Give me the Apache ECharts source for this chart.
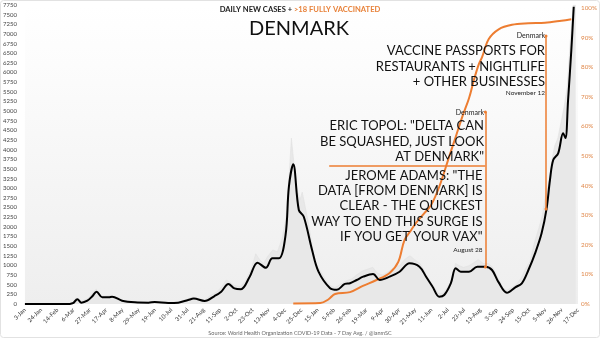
<!DOCTYPE html>
<html><head><meta charset="utf-8">
<script src="https://cdn.jsdelivr.net/npm/echarts/dist/echarts.min.js"></script>
<style>html,body{margin:0;padding:0;background:#fff}#c{width:600px;height:339px}</style>
</head><body><div id="c"></div>
<script>
// ---- data (day index counted from 3-Jan-2020) ----
const startDateUTC = Date.UTC(2020, 0, 3);
const monthNames = ['Jan','Feb','Mar','Apr','May','Jun','Jul','Aug','Sep','Oct','Nov','Dec'];
const tickEveryDays = 21;
const lastTickDay = 714;

// 7-day average daily new cases (black line)
const avgDays  = [0, 30, 58, 62, 67.8, 72.9, 80.6, 87, 92.5, 99.8, 108.4, 112.6, 125.4, 142, 159.6, 167.6, 185, 198, 210.7, 218, 232, 244.8, 253.4, 262.7, 270.4, 279, 290, 300.3, 311, 319.5, 328, 336.5, 340.8, 346.4, 353.6, 360, 370.7, 379, 394, 402.7, 413, 419.7, 428.3, 436.7, 449.5, 458, 470.9, 483.7, 496.5, 509.3, 517.9, 526.3, 534.9, 541.3, 549.8, 556.2, 562.6, 573.3, 584, 594.6, 603, 611.6, 622.3, 633, 641.5, 650, 658.6, 667, 673.5, 677.8, 682, 688.4, 694.8, 697.8, 701.2, 705.4, 708.5];
const avgCases = [0, 0, 3, 20, 122, 35, 86, 200, 320, 173, 173, 190, 86, 43, 35, 50, 25, 35, 104, 140, 80, 207, 320, 518, 406, 385, 700, 1070, 940, 1185, 1185, 1790, 3040, 3620, 2435, 2260, 1400, 840, 410, 370, 520, 536, 622, 708, 778, 622, 708, 837, 1055, 967, 708, 448, 189, 233, 536, 925, 837, 837, 967, 967, 881, 560, 293, 433, 536, 881, 1314, 1832, 2480, 3214, 3732, 3906, 4424, 4300, 5288, 6584, 7705];

// raw daily cases (light grey bars)
const rawDays  = [0, 55, 62, 66, 70, 75, 82, 88, 92, 96, 100, 105, 110, 115, 120, 130, 140, 150, 160, 170, 180, 190, 200, 210, 217, 225, 232, 240, 247, 253, 260, 265, 270, 278, 285, 292, 298, 303, 308, 314, 320, 326, 332, 337, 341, 344, 347, 351, 355, 358, 362, 366, 370, 375, 380, 386, 392, 400, 408, 415, 422, 428, 435, 442, 449, 455, 462, 470, 477, 484, 490, 497, 503, 510, 516, 522, 528, 534, 540, 546, 552, 556, 560, 566, 572, 578, 585, 592, 598, 604, 610, 616, 622, 628, 634, 640, 646, 652, 658, 664, 668, 672, 676, 680, 684, 688, 692, 696, 700, 704, 708, 711];
const rawCases = [0, 0, 30, 160, 60, 90, 150, 300, 390, 250, 200, 210, 230, 170, 120, 80, 60, 50, 45, 60, 35, 40, 50, 130, 180, 110, 100, 230, 300, 420, 620, 560, 480, 450, 600, 900, 1300, 1150, 1050, 1250, 1400, 1350, 1700, 2200, 3300, 4300, 3700, 3000, 2700, 2900, 2500, 2100, 1600, 1100, 900, 700, 500, 420, 520, 600, 650, 750, 850, 900, 950, 800, 750, 850, 950, 1000, 1150, 1250, 1150, 1050, 850, 600, 450, 260, 280, 450, 700, 1050, 1000, 950, 980, 1050, 1150, 1050, 1050, 950, 700, 450, 350, 420, 500, 650, 900, 1100, 1600, 2000, 2300, 2800, 3100, 3700, 4100, 4300, 4700, 5100, 5600, 6800, 7750, 7750];

// >18 fully vaccinated, % (orange line)
const vaxDays = [346.4, 381.3, 392, 400.5, 419.7, 436.3, 453.9, 470.9, 482, 490, 498.7, 505, 515.7, 524.3, 534.9, 547.7, 556.2, 564.7, 573.3, 580, 586, 590.3, 598.8, 611.6, 628.7, 650, 671.4, 692.6, 705.4];
const vaxPct  = [0.2, 0.3, 1.6, 3.4, 4.0, 6.1, 8.1, 10.5, 14.2, 21.6, 25, 27.4, 30.7, 33.4, 39.6, 49.8, 56.5, 63.3, 69.5, 76, 81, 83.5, 89.5, 92.8, 94.3, 94.8, 95, 95.7, 96.2];

const leftTicks = {min: 0, max: 7750, step: 250};
const rightTicks = {min: 0, max: 101, step: 10};

// annotation anchors (data coords)
const nov12Line = {day: 672.7, from: 2462, to: 6946};
const aug28Line = {day: 594.4, from: 959, to: 4977};
const topolRule = {from: 392.8, to: 594.4, value: 3585};

// ---- chart ----
function dayLabel(v) {
  const d = new Date(startDateUTC + v * 86400000);
  return d.getUTCDate() + '-' + monthNames[d.getUTCMonth()];
}
const zip = (a, b) => a.map((x, i) => [x, b[i]]);
const ORANGE = '#ED7D31';
const FONT = 'Lato, "Noto Sans", sans-serif';

const chart = echarts.init(document.getElementById('c'), null, {renderer: 'canvas'});
chart.setOption({
  animation: false,
  backgroundColor: '#ffffff',
  textStyle: {fontFamily: FONT},
  grid: {
    left: 22, right: 20, top: 5, bottom: 35, show: true, borderWidth: 0,
    backgroundColor: new echarts.graphic.LinearGradient(0, 0, 0, 1, [
      {offset: 0, color: '#ffffff'}, {offset: 0.2, color: '#fcfcfc'}, {offset: 1, color: '#eeeeee'}])
  },
  xAxis: {
    type: 'value', min: 0, max: lastTickDay, interval: tickEveryDays,
    axisLine: {show: false}, axisTick: {show: false}, splitLine: {show: false},
    axisLabel: {rotate: 45, fontSize: 6, color: '#333', margin: 5, formatter: dayLabel, fontFamily: FONT, showMaxLabel: true, showMinLabel: true}
  },
  yAxis: [{
    type: 'value', min: leftTicks.min, max: leftTicks.max, interval: leftTicks.step,
    axisLine: {show: false}, axisTick: {show: false}, splitLine: {show: false},
    axisLabel: {fontSize: 6, color: '#444', margin: 8, fontFamily: FONT, formatter: v => String(v)}
  }, {
    type: 'value', position: 'right', min: rightTicks.min, max: rightTicks.max, interval: rightTicks.step,
    axisLine: {show: false}, axisTick: {show: false}, splitLine: {show: false},
    axisLabel: {fontSize: 6.3, color: '#E0884A', margin: 3, formatter: '{value}%', showMaxLabel: false, fontFamily: FONT}
  }],
  series: [{
    type: 'line', name: 'raw', data: zip(rawDays, rawCases), yAxisIndex: 0,
    showSymbol: false, smooth: false, silent: true, z: 1,
    lineStyle: {width: 0.6, color: '#e0e0e0'},
    areaStyle: {color: '#e8e8e8', opacity: 1}
  }, {
    type: 'line', name: 'vaccinated', data: zip(vaxDays, vaxPct), yAxisIndex: 1,
    showSymbol: false, smooth: 0.35, z: 3,
    lineStyle: {width: 2, color: ORANGE}
  }, {
    type: 'line', name: 'cases', data: zip(avgDays, avgCases), yAxisIndex: 0,
    showSymbol: false, smooth: 0.35, z: 4,
    lineStyle: {width: 2, color: '#000'},
    markLine: {
      silent: true, animation: false, label: {show: false},
      lineStyle: {color: ORANGE, width: 1.5, type: 'solid'},
      symbol: ['none', 'none'],
      data: [
        [{coord: [nov12Line.day, nov12Line.from], symbol: 'circle', symbolSize: 3}, {coord: [nov12Line.day, nov12Line.to], symbol: 'circle', symbolSize: 3}],
        [{coord: [aug28Line.day, aug28Line.from], symbol: 'circle', symbolSize: 3}, {coord: [aug28Line.day, aug28Line.to], symbol: 'circle', symbolSize: 3}],
        [{coord: [topolRule.from, topolRule.value], symbol: 'none'}, {coord: [topolRule.to, topolRule.value], symbol: 'none'}]
      ]
    }
  }],
  graphic: [
    {type: 'rect', shape: {x: 0.5, y: 0.5, width: 599, height: 337, r: 3}, style: {fill: 'none', stroke: '#e2e2e2', lineWidth: 1}, z: 0, silent: true},
    {type: 'text', x: 300, y: 10, z: 10, style: {
      text: '{a|DAILY NEW CASES + }{b|>18 FULLY VACCINATED}', textAlign: 'center', textVerticalAlign: 'middle',
      rich: {a: {fontSize: 7.6, fontWeight: 'bold', fill: '#222', fontFamily: FONT}, b: {fontSize: 7.6, fontWeight: 'bold', fill: '#E8823A', fontFamily: FONT}}}},
    {type: 'text', x: 299, y: 29, z: 10, style: {text: 'DENMARK', fontSize: 20, fill: '#111', fontFamily: FONT, textAlign: 'center', textVerticalAlign: 'middle'}},
    {type: 'text', x: 545, y: 36, z: 10, style: {text: 'Denmark', fontSize: 7, fill: '#222', fontFamily: FONT, textAlign: 'right', textVerticalAlign: 'middle'}},
    {type: 'text', x: 545, y: 43.5, z: 10, style: {text: 'VACCINE PASSPORTS FOR\nRESTAURANTS + NIGHTLIFE\n+ OTHER BUSINESSES', fontSize: 13, lineHeight: 15.3, fill: '#111', fontFamily: FONT, textAlign: 'right', textVerticalAlign: 'top'}},
    {type: 'text', x: 545, y: 92.7, z: 10, style: {text: 'November 12', fontSize: 6.5, fill: '#222', fontFamily: FONT, textAlign: 'right', textVerticalAlign: 'middle'}},
    {type: 'text', x: 484, y: 113, z: 10, style: {text: 'Denmark', fontSize: 7, fill: '#222', fontFamily: FONT, textAlign: 'right', textVerticalAlign: 'middle'}},
    {type: 'text', x: 484, y: 118.5, z: 10, style: {text: 'ERIC TOPOL: "DELTA CAN\nBE SQUASHED, JUST LOOK\nAT DENMARK"', fontSize: 13, lineHeight: 15.3, fill: '#111', fontFamily: FONT, textAlign: 'right', textVerticalAlign: 'top'}},
    {type: 'text', x: 482.5, y: 168, z: 10, style: {text: 'JEROME ADAMS: "THE\nDATA [FROM DENMARK] IS\nCLEAR - THE QUICKEST\nWAY TO END THIS SURGE IS\nIF YOU GET YOUR VAX"', fontSize: 13, lineHeight: 15.3, fill: '#111', fontFamily: FONT, textAlign: 'right', textVerticalAlign: 'top'}},
    {type: 'text', x: 482.5, y: 250, z: 10, style: {text: 'August 28', fontSize: 6.5, fill: '#222', fontFamily: FONT, textAlign: 'right', textVerticalAlign: 'middle'}},
    {type: 'text', x: 300, y: 333, z: 10, style: {text: 'Source: World Health Organization COVID-19 Data - 7 Day Avg. / @ianmSC', fontSize: 5.5, fill: '#666', fontFamily: FONT, textAlign: 'center', textVerticalAlign: 'middle'}}
  ]
});
</script></body></html>
